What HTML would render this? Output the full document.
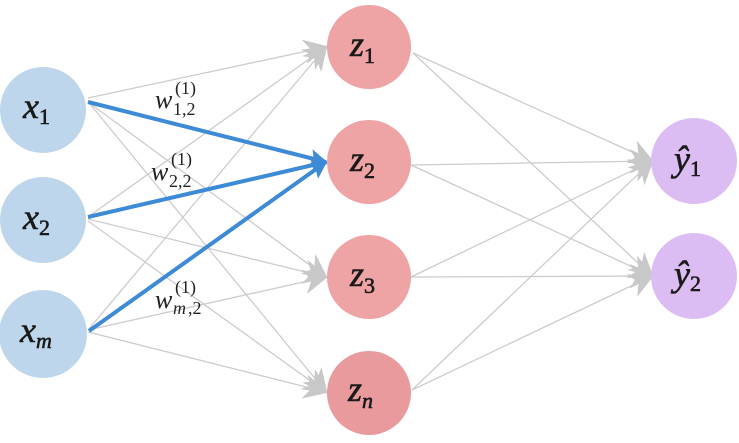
<!DOCTYPE html>
<html><head><style>
body{margin:0;background:#fff;width:739px;height:438px;overflow:hidden}
svg text{font-family:"Liberation Serif",serif}
</style></head><body>
<svg width="739" height="438" viewBox="0 0 739 438" xmlns="http://www.w3.org/2000/svg">
<defs>
<marker id="gb" viewBox="0 0 10 10" refX="9" refY="5" markerWidth="19" markerHeight="19" markerUnits="strokeWidth" orient="auto"><path d="M0,0 L10,5 L0,10 L3,5 z" fill="#c8c8c8"/></marker>
<marker id="b" viewBox="0 0 10 10" refX="9" refY="5" markerWidth="4.5" markerHeight="4.5" markerUnits="strokeWidth" orient="auto"><path d="M0,0 L10,5 L0,10 L2,5 z" fill="#3d8ad6"/></marker>
</defs>
<g stroke="#cccccc" stroke-width="1.3" fill="none">
<line x1="88" y1="98" x2="326" y2="47" marker-end="url(#gb)"/>
<line x1="88" y1="102" x2="326" y2="277" marker-end="url(#gb)"/>
<line x1="90" y1="104" x2="326" y2="392" marker-end="url(#gb)"/>
<line x1="88" y1="217" x2="326" y2="47" marker-end="url(#gb)"/>
<line x1="88" y1="219" x2="326" y2="277" marker-end="url(#gb)"/>
<line x1="88" y1="221" x2="326" y2="392" marker-end="url(#gb)"/>
<line x1="88" y1="330" x2="326" y2="47" marker-end="url(#gb)"/>
<line x1="88" y1="330" x2="326" y2="277" marker-end="url(#gb)"/>
<line x1="88" y1="332" x2="326" y2="392" marker-end="url(#gb)"/>
<line x1="413" y1="53" x2="652" y2="161" marker-end="url(#gb)"/>
<line x1="413" y1="53" x2="652" y2="276" marker-end="url(#gb)"/>
<line x1="411" y1="165" x2="652" y2="161" marker-end="url(#gb)"/>
<line x1="411" y1="165" x2="652" y2="276" marker-end="url(#gb)"/>
<line x1="411" y1="277" x2="652" y2="161" marker-end="url(#gb)"/>
<line x1="411" y1="277" x2="652" y2="276" marker-end="url(#gb)"/>
<line x1="412" y1="390" x2="652" y2="161" marker-end="url(#gb)"/>
<line x1="412" y1="390" x2="652" y2="276" marker-end="url(#gb)"/>
</g>
<g stroke="#3d8ad6" stroke-width="4" fill="none">
<line x1="88" y1="102" x2="326" y2="162" marker-end="url(#b)"/>
<line x1="88" y1="217" x2="326" y2="162" marker-end="url(#b)"/>
<line x1="89" y1="331" x2="326" y2="162" marker-end="url(#b)"/>
</g>
<g fill="#bdd6eb">
<circle cx="43" cy="110" r="43"/><circle cx="43" cy="220" r="43"/><circle cx="43" cy="334" r="44"/>
</g>
<g fill="#eea3a4">
<circle cx="369" cy="47" r="42"/><circle cx="369" cy="162" r="42"/><circle cx="369" cy="277" r="42"/><circle cx="369" cy="393" r="42" fill="#e99a9c"/>
</g>
<g fill="#dcbdf3">
<circle cx="694" cy="161" r="43"/><circle cx="694" cy="276" r="43"/>
</g>
<g fill="#1a1a1a" font-style="italic" font-size="36" stroke="#1a1a1a" stroke-width="0.6">
<text x="23" y="118">x<tspan font-size="22" font-style="normal" dy="6">1</tspan></text>
<text x="23" y="229">x<tspan font-size="22" font-style="normal" dy="6">2</tspan></text>
<text x="20" y="342">x<tspan font-size="22" dy="6">m</tspan></text>
<text x="350" y="56">z<tspan font-size="22" font-style="normal" dy="7">1</tspan></text>
<text x="350" y="171">z<tspan font-size="22" font-style="normal" dy="7">2</tspan></text>
<text x="350" y="286">z<tspan font-size="22" font-style="normal" dy="7">3</tspan></text>
<text x="348" y="401">z<tspan font-size="22" dy="7">n</tspan></text>
<text x="674" y="171">ŷ<tspan font-size="22" font-style="normal" dy="5">1</tspan></text>
<text x="674" y="286">ŷ<tspan font-size="22" font-style="normal" dy="5">2</tspan></text>
</g>
<g fill="#222" font-size="18">
<text x="155" y="108" font-style="italic" font-size="26">w</text><text x="175" y="94">(1)</text><text x="173" y="115">1,2</text>
<text x="151" y="180" font-style="italic" font-size="26">w</text><text x="171" y="165">(1)</text><text x="169" y="187">2,2</text>
<text x="155" y="308" font-style="italic" font-size="26">w</text><text x="175" y="293">(1)</text><text x="173" y="314" font-style="italic">m</text><text x="188" y="314">,2</text>
</g>
</svg>
</body></html>
